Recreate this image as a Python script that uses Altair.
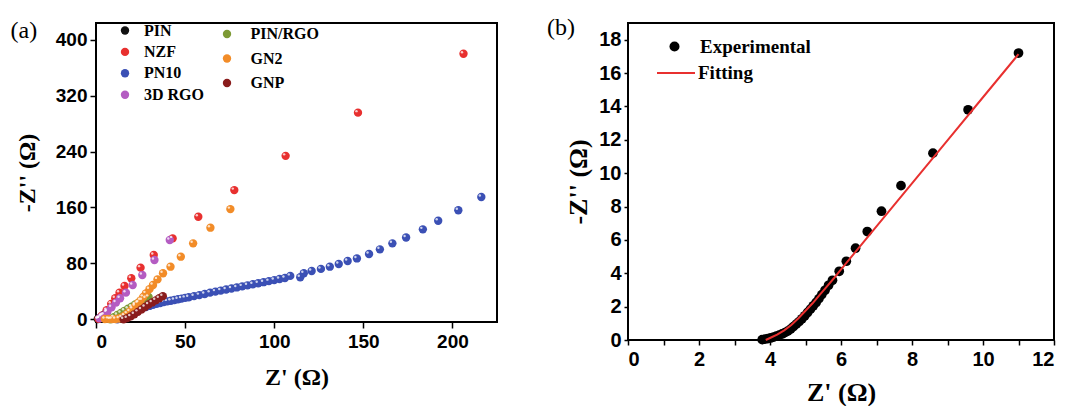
import altair as alt
import pandas as pd

# ---------------- Panel (a) data ----------------
PIN_X = [1.0, 2.0, 3.0, 4.5, 6.0]
PIN_Y = [0.2, 1.5, 3.5, 6.5, 10.0]

NZF_X = [1.4, 3.3, 6.0, 8.5, 10.8, 13.2, 16.0, 19.8, 25.0, 32.4, 43.0, 57.4, 77.6, 106.4, 147.0, 206.2]
NZF_Y = [0.5, 5.0, 13.0, 22.0, 30.0, 38.0, 47.6, 58.6, 73.8, 91.9, 115.7, 146.7, 184.8, 233.8, 295.7, 380.0]

PN10_X = [12, 14, 16, 18, 20, 22, 24, 26, 28, 30, 32, 34, 36, 38, 40, 42, 44, 46, 48, 50,
          52, 55, 58, 61, 64, 67, 70, 73, 76, 79, 82, 85, 88, 91, 94, 97, 100, 103, 106, 109,
          114.6, 116.6, 121, 126.2, 131.2, 136.2, 141.2, 146.4, 153.2, 159.3, 166.3, 174, 183.4, 192, 203.3, 216.2]
PN10_Y = [0, 2, 4.5, 7, 9.5, 12, 14, 16, 17.5, 19, 20.5, 22, 23, 24.5, 25.5, 26.5, 27.5, 28.5, 29.5, 30.5,
          31.5, 33, 34.5, 36, 38, 39.5, 41, 42.5, 44, 45.5, 47, 48.5, 50, 51.5, 53, 54.5, 56, 57.5, 59, 62,
          60, 65.7, 69, 72, 75.2, 79, 83.3, 87, 93.3, 100, 108.6, 117, 128.6, 141, 156, 175]

RGO3D_X = [2.0, 3.9, 6.4, 8.7, 11.2, 13.5, 16.8, 20.6, 26.0, 32.8, 41.4]
RGO3D_Y = [1.4, 5.2, 11.0, 17.0, 23.8, 30.0, 38.0, 49.0, 63.3, 84.8, 113.3]

PINRGO_X = [8, 10, 12, 14, 16, 18, 20, 22, 24, 26, 28, 29.5]
PINRGO_Y = [0, 3, 6, 9, 12, 15, 18, 21, 24, 27, 30, 32]

GN2_X = [5, 7, 9, 11, 13, 14.5, 16, 17.5, 19, 20.5, 22, 23.5, 25, 26.5, 28, 30, 32, 34.5, 37.6, 41.8, 47.6, 54.5, 64.2, 75.4]
GN2_Y = [0.3, 0.5, 0.2, 0.3, 1, 2.5, 5, 8, 11, 15, 19, 23, 27, 32, 37, 43, 49, 57, 65.7, 75.2, 89.5, 108.6, 131, 157.6]

GNP_X = [15.5, 17.5, 19.5, 21.5, 23.5, 25.5, 27.5, 29.5, 31.5, 33.5, 35.5, 37.5]
GNP_Y = [0, 1.5, 4, 7, 10.5, 14, 17.5, 21, 24, 27, 30, 33]

GROUP1 = ["PIN", "NZF", "PN10", "3D RGO"]
COLORS1 = ["#111111", "#e8302f", "#3b50b5", "#b45cc2"]
GROUP2 = ["PIN/RGO", "GN2", "GNP"]
COLORS2 = ["#7d9a35", "#f28c28", "#8a1c1c"]

# ---------------- Panel (b) data ----------------
EXP_X = [3.78, 3.86, 3.94, 4.02, 4.10, 4.18, 4.26, 4.34, 4.42, 4.50, 4.58, 4.66, 4.74, 4.82, 4.90,
         4.98, 5.06, 5.14, 5.22, 5.30, 5.38, 5.46, 5.55, 5.65, 5.76, 5.95, 6.15, 6.41, 6.74, 7.14,
         7.69, 8.59, 9.58, 11.0]
EXP_Y = [0.02, 0.05, 0.08, 0.12, 0.17, 0.23, 0.29, 0.36, 0.44, 0.53, 0.65, 0.80, 0.95, 1.10, 1.27,
         1.45, 1.65, 1.85, 2.05, 2.25, 2.48, 2.72, 2.98, 3.28, 3.58, 4.12, 4.72, 5.50, 6.50, 7.72,
         9.25, 11.2, 13.8, 17.2]

FIT_X = [3.88, 4.0, 4.2, 4.4, 4.6, 4.8, 5.0, 5.2, 5.4, 5.6, 5.8, 5.95, 6.5, 7.0, 8.0, 9.0, 10.0, 11.0]
FIT_Y = [0.0, 0.12, 0.32, 0.58, 0.9, 1.3, 1.75, 2.2, 2.7, 3.2, 3.7, 4.1, 5.52, 6.81, 9.39, 11.97, 14.55, 17.13]

# ---------------- build tables ----------------
series_a = [("PIN", PIN_X, PIN_Y), ("NZF", NZF_X, NZF_Y), ("PN10", PN10_X, PN10_Y),
            ("3D RGO", RGO3D_X, RGO3D_Y), ("PIN/RGO", PINRGO_X, PINRGO_Y),
            ("GN2", GN2_X, GN2_Y), ("GNP", GNP_X, GNP_Y)]
rows = []
i = 0
for name, xs, ys in series_a:
    for xv, yv in zip(xs, ys):
        rows.append({"series": name, "zr": xv, "zi": yv, "idx": i})
        i += 1
dfa = pd.DataFrame(rows)
df1 = dfa[dfa["series"].isin(GROUP1)]
df2 = dfa[dfa["series"].isin(GROUP2)]

dfe = pd.DataFrame({"zr": EXP_X, "zi": EXP_Y, "series": ["Experimental"] * len(EXP_X)})
dff = pd.DataFrame({"zr": FIT_X, "zi": FIT_Y, "series": ["Fitting"] * len(FIT_X)})

# ---------------- Panel (a) ----------------
XA = alt.X("zr:Q", scale=alt.Scale(domain=[0, 225], nice=False, zero=False),
           axis=alt.Axis(values=[0, 50, 100, 150, 200], title="Z' (Ω)", labelFontSize=19,
                         titleFontSize=24, tickSize=6, labelPadding=4, titlePadding=14))
YA = alt.Y("zi:Q", scale=alt.Scale(domain=[-4, 424], nice=False, zero=False),
           axis=alt.Axis(values=[0, 80, 160, 240, 320, 400], title="-Z'' (Ω)", labelFontSize=19,
                         titleFontSize=24, tickSize=6, labelPadding=3, titlePadding=16))


def group_layers(data, names, colors, legend):
    p = alt.Chart(data).mark_circle(size=70, opacity=1).encode(
        x=XA, y=YA,
        color=alt.Color("series:N", scale=alt.Scale(domain=names, range=colors), legend=legend),
        order=alt.Order("idx:Q"))
    h = alt.Chart(data).mark_circle(size=6, color="white", opacity=0.75, xOffset=-1.5, yOffset=-1.5).encode(
        x=XA, y=YA, order=alt.Order("idx:Q"))
    return p, h


leg1 = alt.Legend(orient="none", legendX=21, legendY=-0.5, title=None, symbolType="circle",
                  symbolSize=70, labelFontSize=16, labelOffset=11, rowPadding=5.4, padding=0,
                  symbolStrokeWidth=0)
leg2 = alt.Legend(orient="none", legendX=123, legendY=3, title=None, symbolType="circle",
                  symbolSize=70, labelFontSize=16, labelOffset=15.5, rowPadding=8.5, padding=0,
                  symbolStrokeWidth=0)
p1, h1 = group_layers(df1, GROUP1, COLORS1, leg1)
p2, h2 = group_layers(df2, GROUP2, COLORS2, leg2)

lab_a = alt.Chart(pd.DataFrame({"t": ["(a)"]})).mark_text(
    font="Liberation Serif", fontSize=24, align="left", baseline="middle", color="black"
).encode(x=alt.value(-85.5), y=alt.value(8), text="t:N")

panel_a = alt.layer(p1, h1, p2, h2, lab_a).resolve_scale(color="independent").properties(width=401, height=299)

# ---------------- Panel (b) ----------------
XB = alt.X("zr:Q", scale=alt.Scale(domain=[0, 12], nice=False, zero=False),
           axis=alt.Axis(values=list(range(0, 13)), labelExpr="datum.value % 2 === 0 ? datum.label : ''",
                         title="Z' (Ω)", labelFontSize=20, titleFontSize=26, tickSize=5,
                         labelPadding=4, titlePadding=10))
YB = alt.Y("zi:Q", scale=alt.Scale(domain=[0, 19], nice=False, zero=False),
           axis=alt.Axis(values=list(range(0, 19, 2)), title="-Z'' (Ω)", labelFontSize=20,
                         titleFontSize=26, tickSize=4, labelPadding=3, titlePadding=7))

exp_pts = alt.Chart(dfe).mark_circle(size=95, opacity=1).encode(
    x=XB, y=YB,
    color=alt.Color("series:N", scale=alt.Scale(domain=["Experimental"], range=["#000000"]),
                    legend=alt.Legend(orient="none", legendX=37, legendY=14, title=None,
                                      symbolType="circle", symbolSize=100, labelFontSize=19,
                                      labelOffset=16, padding=0, symbolStrokeWidth=0)))
fit_line = alt.Chart(dff).mark_line(strokeWidth=2).encode(
    x=XB, y=YB, order="zr:Q",
    color=alt.Color("series:N", scale=alt.Scale(domain=["Fitting"], range=["#e8302f"]),
                    legend=alt.Legend(orient="none", legendX=28, legendY=30, title=None,
                                      symbolType="stroke", symbolSize=1444, symbolStrokeWidth=2,
                                      labelFontSize=19, labelOffset=2, padding=0)))
lab_b = alt.Chart(pd.DataFrame({"t": ["(b)"]})).mark_text(
    font="Liberation Serif", fontSize=24, align="left", baseline="middle", color="black"
).encode(x=alt.value(-81), y=alt.value(5.3), text="t:N")

panel_b = alt.layer(exp_pts, fit_line, lab_b).resolve_scale(color="independent").properties(width=426, height=317)

chart = alt.hconcat(panel_a, panel_b, spacing=48).configure(
    padding={"left": 1, "top": 7, "right": 0, "bottom": 0}
).configure_view(stroke="black", strokeWidth=2).configure_axis(
    domain=False, grid=False, tickColor="black", tickWidth=1.5,
    labelFont="Liberation Sans", labelFontWeight="bold", labelColor="black",
    titleFont="Liberation Serif", titleFontWeight="bold", titleColor="black"
).configure_legend(
    labelFont="Liberation Serif", labelFontWeight="bold", labelColor="black"
)

chart.save("out.html", embed_options={"renderer": "svg", "actions": False})
